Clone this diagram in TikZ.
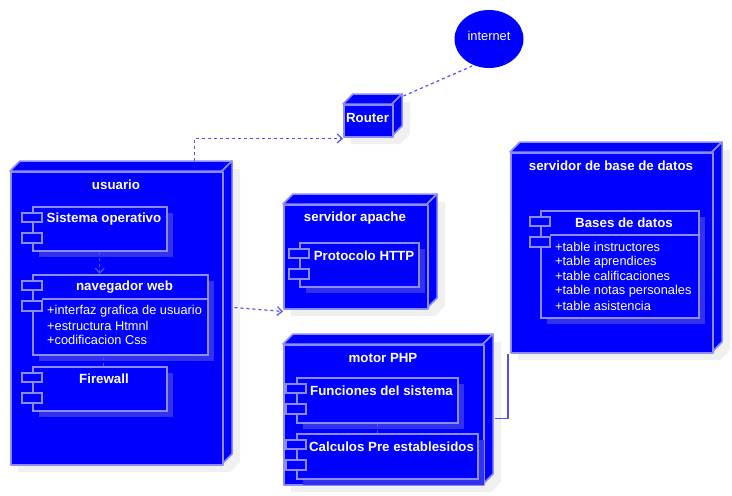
\documentclass[tikz,border=0pt]{standalone}
\usepackage{fontspec}
\setmainfont{Liberation Sans}
\usetikzlibrary{arrows.meta,calc,shapes.geometric}

\definecolor{umlblue}{HTML}{0000FF}
\definecolor{umledge}{HTML}{8C8CFF}
\definecolor{compshade}{HTML}{3232EE}
\definecolor{dropgray}{HTML}{F0F0F0}
\definecolor{linkblue}{HTML}{5050FF}

\tikzset{
  facebox/.style={fill=umlblue, draw=umledge, line width=1.5pt, line join=round},
  compbox/.style={fill=umlblue, draw=umledge, line width=1.5pt},
  title/.style={text=white, font=\fontsize{13.3}{15}\selectfont\bfseries, inner sep=0pt},
  item/.style={text=white, font=\fontsize{12.8}{14}\selectfont, inner sep=0pt, anchor=west},
  link/.style={draw=linkblue, line width=1.2pt, dash pattern=on 3pt off 3pt},
  depend/.style={link, -{Straight Barb[length=5pt,width=9pt]}},
}

% 3D node: name, x1, y1, x2, y2 (front face)
\newcommand{\cubenode}[5]{%
  \fill[dropgray] (#2+8,#5+8) -- (#2+8,#3+8) -- (#2+18,#3-2) -- (#4+18,#3-2)
    -- (#4+18,#5-2) -- (#4+8,#5+8) -- cycle;
  \path[facebox] (#2,#3) -- (#2+10,#3-10) -- (#4+10,#3-10) -- (#4,#3) -- cycle;
  \path[facebox] (#4,#3) -- (#4+10,#3-10) -- (#4+10,#5-10) -- (#4,#5) -- cycle;
  \node[facebox, anchor=north west, inner sep=0pt,
    minimum width={#4pt-#2pt}, minimum height={#5pt-#3pt}] (#1) at (#2,#3) {};
}
% component: name, x1, y1, x2, y2
\newcommand{\compnode}[5]{%
  \fill[compshade] (#2+7,#3+7) rectangle (#4+7,#5+7);
  \node[compbox, anchor=north west, inner sep=0pt,
    minimum width={#4pt-#2pt}, minimum height={#5pt-#3pt}] (#1) at (#2,#3) {};
  \draw[compbox] (#2-10,#3+7) rectangle (#2+10,#3+16);
  \draw[compbox] (#2-10,#3+27) rectangle (#2+10,#3+37);
}

\begin{document}
\begin{tikzpicture}[x=1pt, y=-1pt]
  \useasboundingbox[fill=white] (0,0) rectangle (732,496);

  % usuario
  \cubenode{usuario}{10}{171}{222}{464}
  \node[title] at (116,185) {usuario};
  \compnode{sistema}{32}{206}{166}{250}
  \node[title] at (104,219) {Sistema operativo};
  \compnode{navegador}{32}{274}{207}{354}
  \node[title] at (124.5,287) {navegador web};
  \draw[compbox] (42,299) -- (207,299);
  \node[item] at (47,311) {+interfaz grafica de usuario};
  \node[item] at (47,325.5) {+estructura Htmnl};
  \node[item] at (47,340) {+codificacion Css};
  \compnode{firewall}{32}{366}{166}{410}
  \node[title] at (104,379) {Firewall};

  % router e internet
  \cubenode{router}{343}{104}{392}{136}
  \node[title] at (367.5,118) {Router};
  \node[ellipse, fill=umlblue, minimum width=69pt, minimum height=58pt, inner sep=0pt]
    (internet) at (489,39) {};
  \node[text=white, font=\fontsize{12.8}{14}\selectfont, inner sep=0pt] at (489,36) {internet};

  % servidor apache
  \cubenode{apache}{283}{204}{427}{308}
  \node[title] at (355,218) {servidor apache};
  \compnode{http}{299}{242}{418}{286}
  \node[title] at (364,256) {Protocolo HTTP};

  % motor PHP
  \cubenode{php}{283}{344}{483}{484}
  \node[title] at (383,358) {motor PHP};
  \compnode{funciones}{296}{377}{457}{422}
  \node[title] at (381.5,391) {Funciones del sistema};
  \compnode{calculos}{296}{433}{477}{478}
  \node[title] at (391.5,447) {Calculos Pre establesidos};

  % servidor de base de datos
  \cubenode{db}{510}{152}{712}{352}
  \node[title] at (611,166) {servidor de base de datos};
  \compnode{bases}{540}{210}{698}{317}
  \node[title] at (624,223) {Bases de datos};
  \draw[compbox] (550,235) -- (698,235);
  \foreach \txt [count=\i from 0] in {instructores, aprendices, calificaciones,
      notas personales, asistencia}
    \node[item] at (555,247+14.7*\i) {+table \txt};

  % conectores
  \draw[depend] (sistema.south) -- (sistema.south |- navegador.north);
  \draw[link] ([xshift=4pt]firewall.north) -- ([xshift=4pt]firewall.north |- navegador.south);
  \draw[depend] ($(usuario.north east)+(-29,-10)$) |- ([yshift=-1pt]router.south west);
  \draw[link] ($(router.north east)+(10,-8)$) -- (internet.240);
  \draw[depend] ($(usuario.east |- apache.south west)+(11,-2)$) -- ([yshift=-2pt]apache.south west);
  \draw[link] (funciones.south) -- (funciones.south |- calculos.north);
  \draw[draw=linkblue, line width=1.2pt] ($(php.east)+(10,4)$) -| ([xshift=-2pt]db.south west);
\end{tikzpicture}
\end{document}
